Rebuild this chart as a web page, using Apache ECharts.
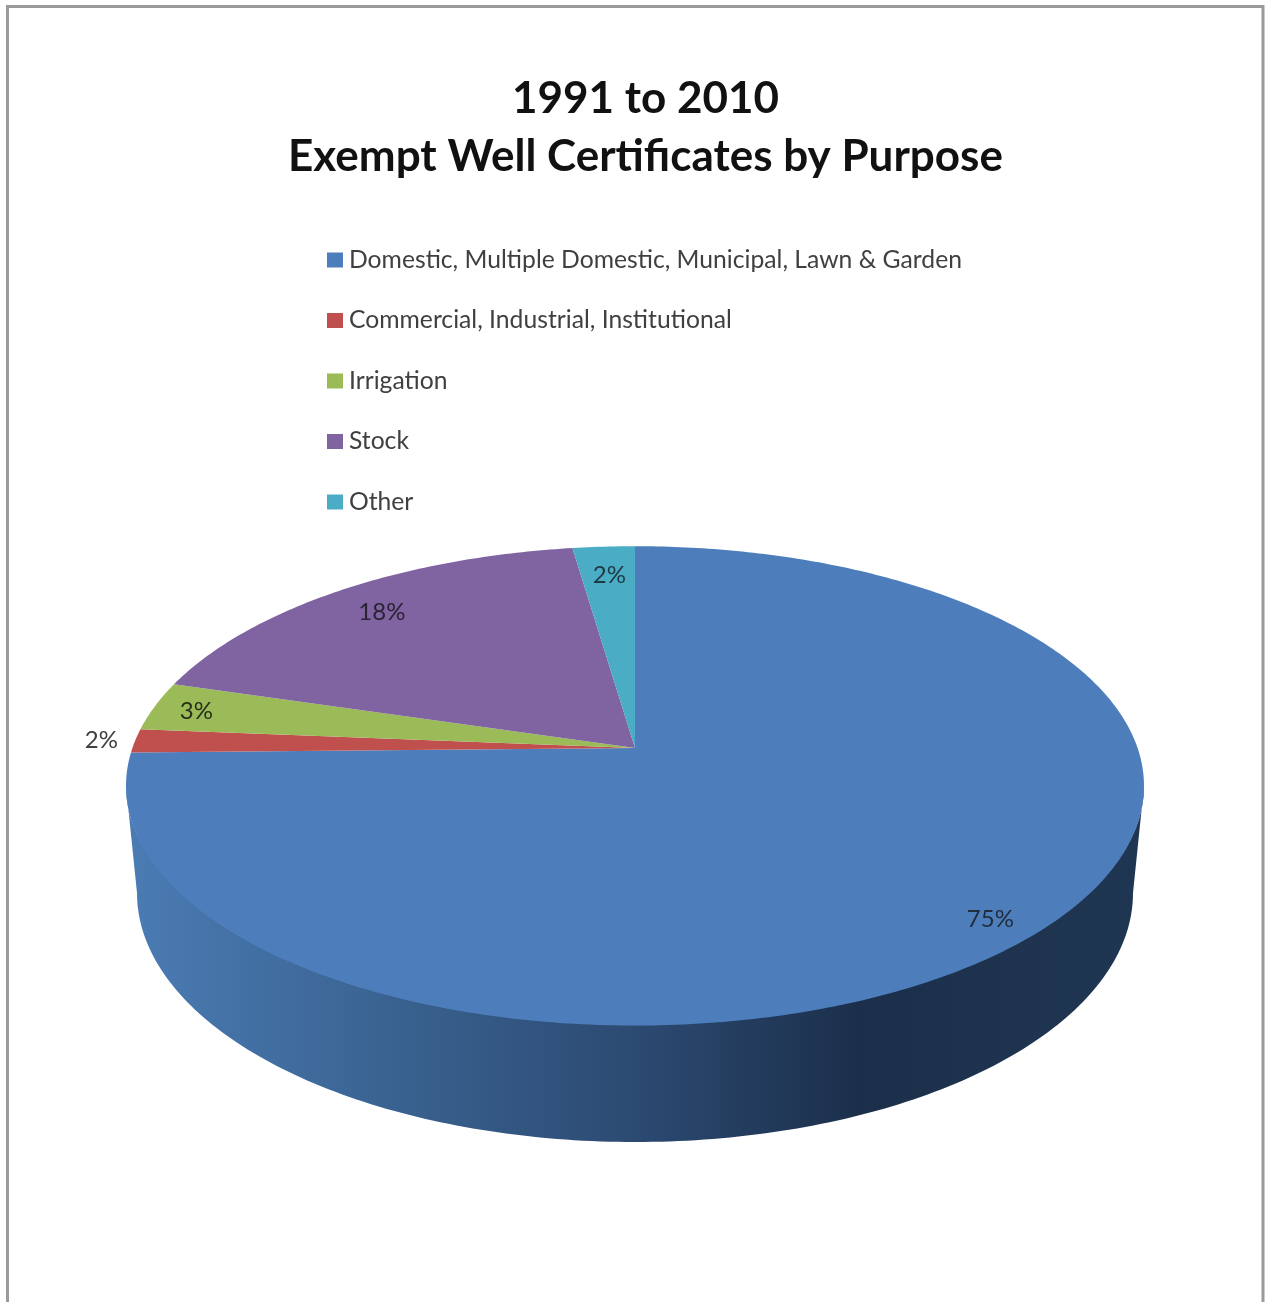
<!DOCTYPE html>
<html>
<head>
<meta charset="utf-8">
<style>html,body{margin:0;padding:0;background:#fff}#c{width:1265px;height:1302px}</style>
<script src="https://cdn.jsdelivr.net/npm/echarts@6/dist/echarts.min.js"></script>
</head>
<body>
<div id="c"></div>
<script>
const categories = ['Domestic, Multiple Domestic, Municipal, Lawn & Garden','Commercial, Industrial, Institutional','Irrigation','Stock','Other'];
const shares = [74.7, 1.6, 3.3, 18.1, 2.3];
const labels = ['75%', '2%', '3%', '18%', '2%'];
const colors = ['#4d7ebb', '#c0504d', '#9bbb59', '#8064a2', '#4bacc6'];
const labelColors = ['#1f2d3d', '#404040', '#263018', '#2b2236', '#1d3a42'];
const labelRadius = [0.913, 1.068, 0.91, 0.848, 0.84];
const labelAngleShift = [1.6, 0, -0.3, 0, 0.2];

// Perspective view of the pie's top face
const view = {cx: 635, apexY: 748, R: 502.6, b: 115.5, c: -0.158};
const total = shares.reduce((a, b) => a + b, 0);
function project(theta, r) {
  const u = Math.sin(theta) * r, v = -Math.cos(theta) * r, d = 1 + view.c * v;
  return [view.cx + view.R * u / d, (view.apexY + view.b * v) / d];
}
function ellipseArc(cy, rx, ry, from, to, n) {
  const p = [];
  for (let i = 0; i <= n; i++) {
    const a = from + (to - from) * i / n;
    p.push([view.cx + rx * Math.cos(a), cy + ry * Math.sin(a)]);
  }
  return p;
}
const wallPoints = ellipseArc(786, 509, 235, 0, Math.PI, 180).concat(ellipseArc(893, 498, 249, Math.PI, 0, 180));
const wallFill = {type: 'linear', global: true, x: 135, y: 0, x2: 1135, y2: 0, colorStops: [
  {offset: 0, color: '#4a7bb3'}, {offset: 0.25, color: '#3a6391'}, {offset: 0.5, color: '#2c4a72'},
  {offset: 0.725, color: '#1b2f4a'}, {offset: 1, color: '#1f3652'}]};

function renderSlice(index) {
  return function (params, api) {
    let start = 0;
    for (let i = 0; i < index; i++) start += shares[i];
    const value = api.value(0);
    const t0 = start / total * 2 * Math.PI, t1 = (start + value) / total * 2 * Math.PI;
    const pts = [project(0, 0)];
    const n = Math.max(8, Math.ceil((t1 - t0) / (Math.PI / 240)));
    for (let i = 0; i <= n; i++) pts.push(project(t0 + (t1 - t0) * i / n, 1));
    const lp = project((t0 + t1) / 2 + labelAngleShift[index] * Math.PI / 180, labelRadius[index]);
    const children = [];
    if (index === 0) children.push({type: 'polygon', shape: {points: wallPoints}, style: {fill: wallFill}});
    children.push({type: 'polygon', shape: {points: pts}, style: {fill: colors[index]}});
    children.push({type: 'text', x: lp[0], y: lp[1], z2: 10, style: {
      text: labels[index], fill: labelColors[index], font: '24px Lato', align: 'center', verticalAlign: 'middle'}});
    return {type: 'group', children};
  };
}

const chart = echarts.init(document.getElementById('c'), null, {renderer: 'canvas'});
chart.setOption({
  animation: false,
  backgroundColor: '#fff',
  color: colors,
  title: {
    text: '1991 to 2010\nExempt Well Certificates by Purpose',
    left: 640.5, top: 65, textAlign: 'center',
    textStyle: {fontFamily: 'Lato', fontSize: 44, fontWeight: 'bold', color: '#111', lineHeight: 58}
  },
  legend: {
    orient: 'vertical', left: 322, top: 240, itemWidth: 16, itemHeight: 15, itemGap: 30.5, icon: 'rect',
    data: categories,
    textStyle: {fontFamily: 'Lato', fontSize: 24.7, color: '#404040', padding: [0, 0, 0, 1], lineHeight: 30},
    selectedMode: false
  },
  graphic: [
    {type: 'polyline', silent: true, shape: {points: [[7.5, 1302], [7.5, 6.5], [1263, 6.5], [1263, 1302]]},
     style: {fill: null, stroke: '#9a9a9a', lineWidth: 3}}
  ],
  series: categories.map((name, i) => ({
    type: 'custom', name, coordinateSystem: 'none', clip: false,
    itemStyle: {color: colors[i]}, data: [[shares[i]]], renderItem: renderSlice(i)
  }))
});
</script>
</body>
</html>
